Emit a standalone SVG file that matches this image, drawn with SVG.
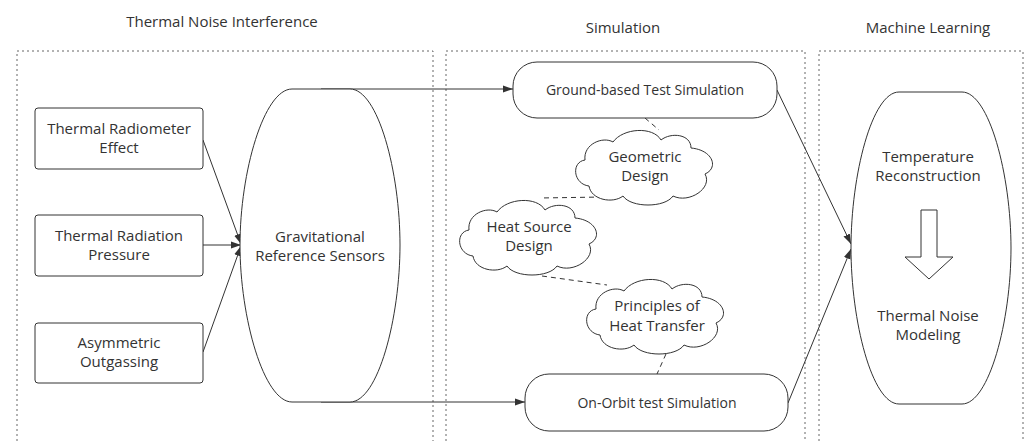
<svg xmlns="http://www.w3.org/2000/svg" width="1025" height="441" viewBox="0 0 1025 441">
<style>
.cont{fill:none;stroke:#666;stroke-width:1;stroke-dasharray:2,3}
.title{font-family:"Open Sans","Noto Sans",sans-serif;font-size:15px;fill:#333;text-anchor:middle}
.t{font-family:"Open Sans","Noto Sans",sans-serif;font-size:15px;fill:#333;text-anchor:middle}
.ts{font-family:"Open Sans","Noto Sans",sans-serif;font-size:14px;fill:#333;text-anchor:middle}
.shape{fill:#fff;stroke:#333;stroke-width:1}
.conn{fill:none;stroke:#333;stroke-width:1}
.dash{fill:none;stroke:#333;stroke-width:1;stroke-dasharray:5,4}
</style>
<defs>
<marker id="arr" viewBox="0 0 10 10" refX="10" refY="5" markerWidth="10" markerHeight="10" markerUnits="userSpaceOnUse" orient="auto">
<path d="M0,1.5 L10,5 L0,8.5 Z" fill="#333"/>
</marker>
<path id="cloud" d="M16,58 C0,56 -2,34 12,32 C10,16 30,8 40,14 C50,0 80,-2 88,12 C98,4 118,6 118,20 C140,22 146,40 132,46 C140,60 116,76 100,68 C92,80 58,80 50,68 C40,76 18,72 16,58 Z"/>
</defs>

<g id="containers">
<path class="cont" d="M17,441 V51 H433 V441"/>
<path class="cont" d="M446,441 V51 H805 V441"/>
<path class="cont" d="M819,441 V51 H1023 V441"/>
<text class="title" x="222" y="27">Thermal Noise Interference</text>
<text class="title" x="623" y="33">Simulation</text>
<text class="title" x="928" y="33">Machine Learning</text>
</g>

<g id="connectors">
<path class="conn" d="M203,140 L241,244" marker-end="url(#arr)"/>
<path class="conn" d="M203,245 L241,245" marker-end="url(#arr)"/>
<path class="conn" d="M203,352 L241,246" marker-end="url(#arr)"/>
<path class="conn" d="M321,89 L513,89" marker-end="url(#arr)"/>
<path class="conn" d="M321,402 L525,402" marker-end="url(#arr)"/>
<path class="conn" d="M777,90 L851,244" marker-end="url(#arr)"/>
<path class="conn" d="M788,403 L851,249" marker-end="url(#arr)"/>
<path class="dash" d="M645,118 L659,130"/>
<path class="dash" d="M603,197 L540,198"/>
<path class="dash" d="M542,276 L607,285"/>
<path class="dash" d="M666,354 L657,374"/>
</g>

<g id="n-radiometer">
<rect class="shape" x="35" y="108" width="168" height="61" rx="3"/>
<text class="t" x="119" y="134">Thermal Radiometer</text>
<text class="t" x="119" y="153">Effect</text>
</g>
<g id="n-pressure">
<rect class="shape" x="35" y="215" width="168" height="61" rx="3"/>
<text class="t" x="119" y="241">Thermal Radiation</text>
<text class="t" x="119" y="260">Pressure</text>
</g>
<g id="n-outgassing">
<rect class="shape" x="35" y="323" width="168" height="60" rx="3"/>
<text class="t" x="119" y="348">Asymmetric</text>
<text class="t" x="119" y="367">Outgassing</text>
</g>

<g id="n-grs">
<path class="shape" d="M292,89 H350 C378,89 400,172 400,245 C400,318 378,402 350,402 H292 C264,402 240,318 240,245 C240,172 264,89 292,89 Z"/>
<text class="t" x="320" y="242">Gravitational</text>
<text class="t" x="320" y="261">Reference Sensors</text>
</g>

<g id="n-ground">
<rect class="shape" x="513" y="62" width="264" height="56" rx="24"/>
<text class="ts" x="645" y="95">Ground-based Test Simulation</text>
</g>
<g id="n-orbit">
<rect class="shape" x="525" y="374" width="263" height="57" rx="24"/>
<text class="ts" x="657" y="408">On-Orbit test Simulation</text>
</g>

<g id="n-geometric">
<use href="#cloud" class="shape" transform="translate(573,128)"/>
<text class="t" x="645" y="162">Geometric</text>
<text class="t" x="645" y="181">Design</text>
</g>
<g id="n-heatsource">
<use href="#cloud" class="shape" transform="translate(457,198)"/>
<text class="t" x="529" y="232">Heat Source</text>
<text class="t" x="529" y="251">Design</text>
</g>
<g id="n-principles">
<use href="#cloud" class="shape" transform="translate(584,277)"/>
<text class="t" x="657" y="311">Principles of</text>
<text class="t" x="657" y="331">Heat Transfer</text>
</g>

<g id="n-ml">
<path class="shape" d="M899,92 H962 C989,92 1011,175 1011,248 C1011,321 989,404 962,404 H899 C872,404 851,321 851,248 C851,175 872,92 899,92 Z"/>
<text class="t" x="928" y="162">Temperature</text>
<text class="t" x="928" y="181">Reconstruction</text>
<polygon class="shape" points="921,210 937,210 937,257 953,257 929,279 905,257 921,257"/>
<text class="t" x="928" y="321">Thermal Noise</text>
<text class="t" x="928" y="340">Modeling</text>
</g>
</svg>
